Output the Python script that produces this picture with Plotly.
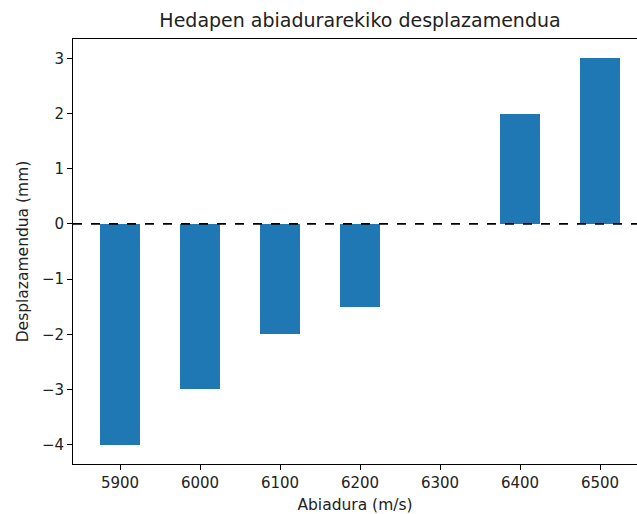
import plotly.graph_objects as go

speeds = [5900, 6000, 6100, 6200, 6400, 6500]
displacements = [-4, -3, -2, -1.5, 2, 3]
xtick_vals = [5900, 6000, 6100, 6200, 6300, 6400, 6500]
ytick_vals = [-4, -3, -2, -1, 0, 1, 2, 3]
ytick_text = [("\u2212" + str(-v)) if v < 0 else str(v) for v in ytick_vals]

fig = go.Figure()
fig.add_trace(go.Bar(x=speeds, y=displacements, width=50,
                     marker=dict(color="#1f77b4", line=dict(width=0))))

fig.add_shape(type="line", xref="paper", yref="y", x0=0, x1=1, y0=0, y1=0,
              line=dict(color="black", width=1.6, dash="dash"))

font = "DejaVu Sans, sans-serif"
fig.update_layout(
    width=637, height=514,
    margin=dict(l=73, r=0, t=39, b=50),
    plot_bgcolor="white", paper_bgcolor="white",
    font=dict(family=font, size=15, color="#222"),
    showlegend=False,
    title=dict(text="Hedapen abiadurarekiko desplazamendua", xref="container",
               x=360/637, xanchor="center", y=1-20/514, yanchor="middle",
               font=dict(size=19, family=font, color="#222")),
    bargap=0,
)
fig.update_xaxes(range=[5841.25, 6546.25], tickvals=xtick_vals,
                 ticks="outside", ticklen=5, tickcolor="black",
                 tickfont=dict(size=15),
                 showline=True, linecolor="black", linewidth=1, mirror=True,
                 showgrid=False, zeroline=False,
                 title=dict(text="Abiadura (m/s)", standoff=9, font=dict(size=15.5)))
fig.update_yaxes(range=[-4.35, 3.35], tickvals=ytick_vals, ticktext=ytick_text,
                 ticks="outside", ticklen=5, tickcolor="black",
                 tickfont=dict(size=15),
                 showline=True, linecolor="black", linewidth=1, mirror=False,
                 showgrid=False, zeroline=False,
                 title=dict(text="Desplazamendua (mm)", standoff=9, font=dict(size=15.5)))
fig.write_html("out.html")
